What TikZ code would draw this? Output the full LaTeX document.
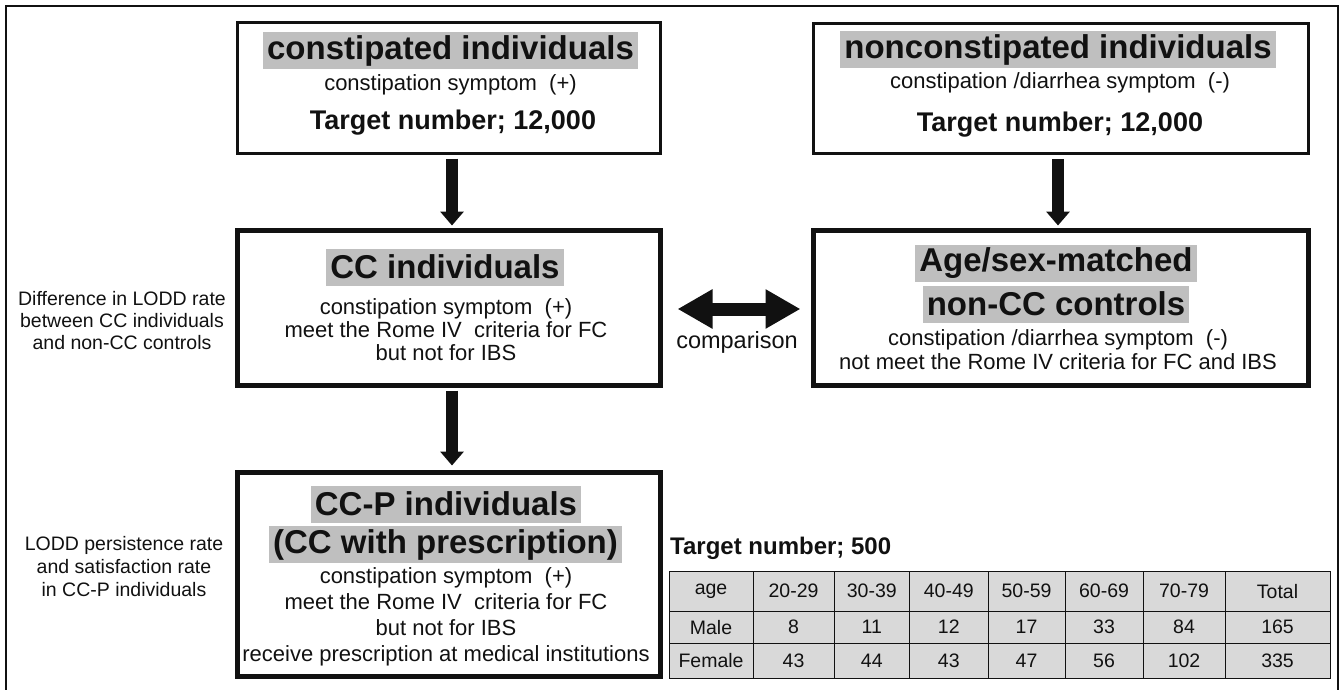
\documentclass[tikz,border=0pt]{standalone}
\usepackage{fontspec}
\setmainfont{Liberation Sans}
\usetikzlibrary{arrows.meta,matrix}
\definecolor{flowink}{HTML}{111111}
\definecolor{flowmark}{HTML}{BFBFBF}
\definecolor{flowcell}{HTML}{D9D9D9}

\begin{document}
\begin{tikzpicture}[
  x=1pt,
  y=-1pt,
  every node/.style={text=flowink},
  cohortbox/.style={draw=flowink, line width=3pt, inner sep=0pt},
  groupbox/.style={draw=flowink, line width=5pt, inner sep=0pt},
  headmark/.style={fill=flowmark, font=\fontsize{33}{37}\selectfont\bfseries,
                   inner xsep=4pt, inner ysep=0pt, minimum height=37pt},
  bodyline/.style={font=\fontsize{22}{26}\selectfont, align=center, inner sep=0pt},
  targetline/.style={font=\fontsize{27}{30}\selectfont\bfseries, inner sep=0pt},
  sidenote/.style={font=\fontsize{19.5}{22}\selectfont, align=center, inner sep=0pt},
  downarrow/.style={flowink, line width=12pt, -{Triangle[width=23pt, length=14pt]}},
  twowayarrow/.style={flowink, line width=13pt,
                      {Triangle[width=37pt, length=35pt]}-{Triangle[width=37pt, length=35pt]}}
]
  % ---- page size and outer frame ----
  \useasboundingbox (0,0) rectangle (1343,690);
  \draw[flowink, line width=1.3pt] (6,690) -- (6,6) -- (1338,6) -- (1338,690);

  % ---- top row: recruited cohorts ----
  \node[cohortbox, minimum width=423pt, minimum height=130pt] (b1) at (448.5,88) {};
  \node[headmark] (h1) at (450.5,50.5) {constipated individuals};
  \node[bodyline] (s1) at (450.5,85) {constipation symptom\ \ (+)};
  \node[targetline] (t1) at (453,123) {Target number; 12,000};

  \node[cohortbox, minimum width=495pt, minimum height=130pt] (b2) at (1060.5,88.5) {};
  \node[headmark] (h2) at (1058,50) {nonconstipated individuals};
  \node[bodyline] (s2) at (1060,83) {constipation /diarrhea symptom\ \ (-)};
  \node[targetline] (t2) at (1060,125) {Target number; 12,000};

  % ---- middle row: CC individuals and matched controls ----
  \node[groupbox, minimum width=423pt, minimum height=155pt] (b3) at (448.5,307.5) {};
  \node[headmark] (h3) at (445,267) {CC individuals};
  \node[bodyline, font=\fontsize{22}{23}\selectfont] (s3) at (446,330)
    {constipation symptom\ \ (+)\\meet the Rome IV\ \ criteria for FC\\but not for IBS};

  \node[groupbox, minimum width=495pt, minimum height=155pt] (b4) at (1060.5,307.5) {};
  \node[headmark] (h4a) at (1056,263) {Age/sex-matched};
  \node[headmark] (h4b) at (1056,304) {non-CC controls};
  \node[bodyline, font=\fontsize{22}{24}\selectfont] (s4) at (1058,350)
    {constipation /diarrhea symptom\ \ (-)\\not meet the Rome IV criteria for FC and IBS};

  \node[sidenote] (ldiff) at (122,321)
    {Difference in LODD rate\\between CC individuals\\and non-CC controls};

  % ---- bottom row: CC with prescription ----
  \node[groupbox, minimum width=423pt, minimum height=204pt] (b5) at (448.5,574) {};
  \node[headmark] (h5a) at (446,504) {CC-P individuals};
  \node[headmark] (h5b) at (445.5,544.5) {(CC with prescription)};
  \node[bodyline, font=\fontsize{22}{26}\selectfont] (s5) at (446,617)
    {constipation symptom\ \ (+)\\meet the Rome IV\ \ criteria for FC\\but not for IBS\\
     receive prescription at medical institutions};

  \node[sidenote, font=\fontsize{19.5}{23}\selectfont] (lpers) at (124,567)
    {LODD persistence rate\\and satisfaction rate\\in CC-P individuals};

  % ---- arrows ----
  \draw[downarrow, shorten <=4pt, shorten >=2pt] ([xshift=3.5pt]b1.south) -- ([xshift=3.5pt]b3.north);
  \draw[downarrow, shorten <=4pt, shorten >=2pt] ([xshift=-2.5pt]b2.south) -- ([xshift=-2.5pt]b4.north);
  \draw[downarrow, shorten <=3pt, shorten >=4pt] ([xshift=3.5pt]b3.south) -- ([xshift=3.5pt]b5.north);
  \draw[twowayarrow, shorten <=15pt, shorten >=10pt] ([yshift=-1.5pt]b3.east) -- ([yshift=-1.5pt]b4.west);
  \node[font=\fontsize{23.5}{26}\selectfont, inner sep=0pt] (cmp) at (737,342) {comparison};

  % ---- target numbers by age and sex ----
  \node[targetline, font=\fontsize{24}{27}\selectfont\bfseries, anchor=west] (t3) at (670,548)
    {Target number; 500};
  \matrix (agetab) [matrix of nodes, anchor=north west, column sep=-1pt, row sep=-1pt,
    nodes={draw=flowink, fill=flowcell, line width=1pt, inner sep=0pt, anchor=center,
           font=\fontsize{19.5}{22}\selectfont},
    row 1/.style={nodes={minimum height=40pt}},
    row 2/.style={nodes={minimum height=32pt}},
    row 3/.style={nodes={minimum height=35pt}},
    column 1/.style={nodes={minimum width=84pt}},
    column 2/.style={nodes={minimum width=81pt}},
    column 3/.style={nodes={minimum width=75.5pt}},
    column 4/.style={nodes={minimum width=78.5pt}},
    column 5/.style={nodes={minimum width=77pt}},
    column 6/.style={nodes={minimum width=78pt}},
    column 7/.style={nodes={minimum width=82pt}},
    column 8/.style={nodes={minimum width=105pt}}] at (665,567) {
    age    & 20-29 & 30-39 & 40-49 & 50-59 & 60-69 & 70-79 & Total \\
    Male   & 8     & 11    & 12    & 17    & 33    & 84    & 165   \\
    Female & 43    & 44    & 43    & 47    & 56    & 102   & 335   \\
  };
\end{tikzpicture}
\end{document}
